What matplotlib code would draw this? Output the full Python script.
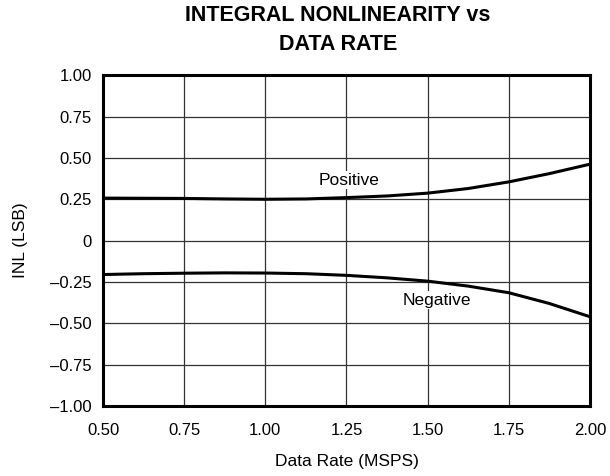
import numpy as np
import matplotlib
matplotlib.use("Agg")
import matplotlib.pyplot as plt

plt.rcParams['font.family'] = ['Liberation Sans', 'DejaVu Sans']

# datos
tasa = [0.5, 0.625, 0.75, 0.875, 1.0, 1.125, 1.25, 1.375, 1.5, 1.625, 1.75, 1.875, 2.0]
inl_pos = [0.257, 0.256, 0.255, 0.252, 0.250, 0.252, 0.260, 0.270, 0.287, 0.315, 0.355, 0.405, 0.462]
inl_neg = [-0.205, -0.200, -0.197, -0.195, -0.196, -0.200, -0.210, -0.225, -0.245, -0.275, -0.315, -0.380, -0.460]

xticks = [0.5, 0.75, 1.0, 1.25, 1.5, 1.75, 2.0]
xlabels = ['0.50', '0.75', '1.00', '1.25', '1.50', '1.75', '2.00']
yticks = [-1.0, -0.75, -0.5, -0.25, 0, 0.25, 0.5, 0.75, 1.0]
ylabels = ['\u20131.00', '\u20130.75', '\u20130.50', '\u20130.25', '0', '0.25', '0.50', '0.75', '1.00']

fig = plt.figure(figsize=(6.1, 4.76), dpi=100)
ax = fig.add_axes([0.169, 0.147, 0.798, 0.695])

ax.plot(tasa, inl_pos, color='black', lw=2.2, zorder=3)
ax.plot(tasa, inl_neg, color='black', lw=2.2, zorder=3)

ax.set_xlim(0.5, 2.0)
ax.set_ylim(-1.0, 1.0)
ax.set_xticks(xticks)
ax.set_xticklabels(xlabels)
ax.set_yticks(yticks)
ax.set_yticklabels(ylabels)
ax.tick_params(length=0, labelsize=12)
ax.tick_params(axis='x', pad=12)
ax.tick_params(axis='y', pad=8)
ax.grid(True, color='#333333', lw=0.9)
for s in ax.spines.values():
    s.set_linewidth(2.2)

ax.text(1.259, 0.366, 'Positive', ha='center', va='center', fontsize=12.5,
        bbox=dict(facecolor='white', edgecolor='none', pad=1), zorder=2)
ax.text(1.529, -0.36, 'Negative', ha='center', va='center', fontsize=12.5,
        bbox=dict(facecolor='white', edgecolor='none', pad=1), zorder=2)

ax.set_xlabel('Data Rate (MSPS)', fontsize=12.5, labelpad=12)
ax.set_ylabel('INL (LSB)', fontsize=12.5, labelpad=16)
fig.text(0.554, 0.937, 'INTEGRAL NONLINEARITY vs\nDATA RATE', ha='center', va='center',
         fontsize=15.5, fontweight='bold', linespacing=1.5)

plt.savefig('out.png', dpi=100)
